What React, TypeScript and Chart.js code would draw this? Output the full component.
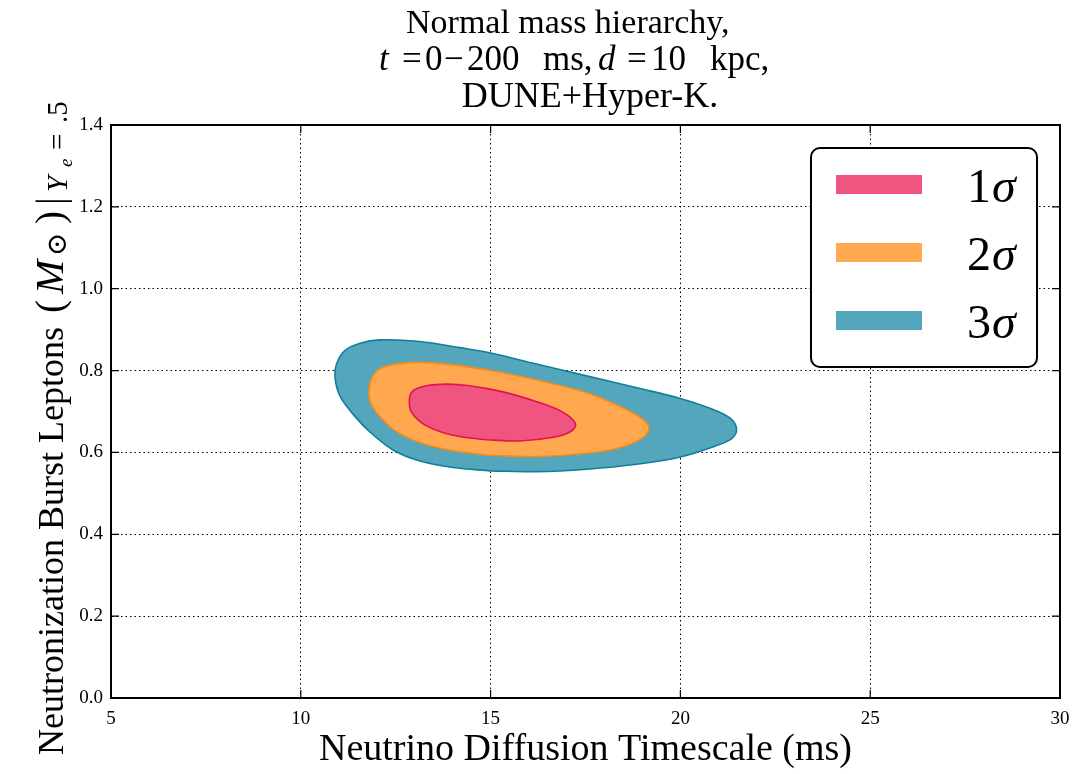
import { useEffect, useRef } from 'react';
import { Chart, registerables } from 'chart.js';

Chart.register(...registerables);

// Axis ranges and tick labels
const xTickValues = [5, 10, 15, 20, 25, 30];
const yTickValues = [0, 0.2, 0.4, 0.6, 0.8, 1.0, 1.2, 1.4];

// 3σ contour: diffusion timescale (ms) and burst leptons (M_sun)
const sigma3T = [15.0, 14.01, 13.14, 12.43, 11.82, 11.38, 11.03, 10.90, 10.94, 11.16, 11.56, 12.08, 13.14, 14.19, 15.0, 16.21, 17.53, 18.85, 20.0, 20.78, 21.31, 21.48, 21.35, 20.87, 20.0, 18.85, 17.53, 16.21, 15.0];
const sigma3M = [0.555, 0.563, 0.579, 0.606, 0.650, 0.693, 0.738, 0.784, 0.816, 0.849, 0.867, 0.875, 0.871, 0.856, 0.843, 0.816, 0.787, 0.758, 0.732, 0.708, 0.684, 0.657, 0.634, 0.614, 0.589, 0.571, 0.559, 0.553, 0.555];

// 2σ contour
const sigma2T = [15.0, 14.01, 13.14, 12.43, 11.99, 11.82, 11.80, 11.86, 12.08, 12.52, 13.14, 14.01, 15.0, 16.21, 17.53, 18.41, 18.93, 19.17, 19.02, 18.41, 17.53, 16.21, 15.0];
const sigma2M = [0.593, 0.604, 0.624, 0.657, 0.698, 0.726, 0.751, 0.779, 0.804, 0.816, 0.820, 0.814, 0.800, 0.777, 0.746, 0.712, 0.686, 0.661, 0.637, 0.612, 0.598, 0.590, 0.593];

// 1σ contour
const sigma1T = [14.89, 14.01, 13.31, 12.92, 12.86, 12.96, 13.31, 13.84, 14.45, 15.33, 16.21, 16.91, 17.24, 17.09, 16.65, 15.77, 14.89];
const sigma1M = [0.631, 0.642, 0.665, 0.698, 0.730, 0.751, 0.763, 0.767, 0.763, 0.748, 0.724, 0.698, 0.669, 0.650, 0.637, 0.628, 0.631];

const legendLabels = ['1', '2', '3'];

const COLORS = {
  s1: { fill: '#EF5580', edge: '#E4124E' },
  s2: { fill: '#FFA850', edge: '#FF8A12' },
  s3: { fill: '#53A6BB', edge: '#10809A' },
};

const SERIF = '"Liberation Serif", "Times New Roman", serif';

type Piece = { t: string; font: string; x: number; dy?: number; align?: CanvasTextAlign };

// Draws text pieces at given positions along the baseline, optionally rotated about (ox, oy).
function drawPieces(ctx: CanvasRenderingContext2D, pieces: Piece[], ox: number, oy: number, rotate = 0) {
  ctx.save();
  ctx.translate(ox, oy);
  if (rotate) ctx.rotate(rotate);
  ctx.textBaseline = 'alphabetic';
  ctx.fillStyle = '#000';
  pieces.forEach((p) => {
    ctx.font = p.font;
    ctx.textAlign = p.align || 'left';
    ctx.fillText(p.t, p.x, p.dy || 0);
  });
  ctx.restore();
}

function pts(xs: number[], ys: number[]) {
  return xs.map((x, i) => ({ x, y: ys[i] }));
}

const decorPlugin = {
  id: 'decor',
  afterDraw(chart: any) {
    const { ctx, chartArea } = chart;
    const { left, right, top, bottom } = chartArea;
    const xs = chart.scales.x;
    const ys = chart.scales.y;

    // frame
    ctx.save();
    ctx.strokeStyle = '#000';
    ctx.lineWidth = 2;
    ctx.strokeRect(left, top, right - left, bottom - top);

    // inward ticks on all four sides
    const tl = 8;
    ctx.lineWidth = 1.2;
    ctx.beginPath();
    xTickValues.forEach((v) => {
      const px = xs.getPixelForValue(v);
      ctx.moveTo(px, bottom);
      ctx.lineTo(px, bottom - tl);
      ctx.moveTo(px, top);
      ctx.lineTo(px, top + tl);
    });
    yTickValues.forEach((v) => {
      const py = ys.getPixelForValue(v);
      ctx.moveTo(left, py);
      ctx.lineTo(left + tl, py);
      ctx.moveTo(right, py);
      ctx.lineTo(right - tl, py);
    });
    ctx.stroke();
    ctx.restore();

    // title
    const t1 = `34px ${SERIF}`;
    const m = `35px ${SERIF}`;
    const mi = `italic 35px ${SERIF}`;
    drawPieces(ctx, [{ t: 'Normal mass hierarchy,', font: t1, x: 406 }], 0, 33);
    drawPieces(ctx, [
      { t: 't', font: mi, x: 379 },
      { t: '=', font: m, x: 402 },
      { t: '0', font: m, x: 425 },
      { t: '\u2212', font: m, x: 444 },
      { t: '200', font: m, x: 467 },
      { t: 'ms,', font: m, x: 543 },
      { t: 'd', font: mi, x: 598 },
      { t: '=', font: m, x: 627 },
      { t: '10', font: m, x: 651 },
      { t: 'kpc,', font: m, x: 710 },
    ], 0, 70);
    drawPieces(ctx, [{ t: 'DUNE+Hyper-K.', font: `36px ${SERIF}`, x: 590, align: 'center' }], 0, 107);

    // x axis title
    drawPieces(ctx, [{ t: 'Neutrino Diffusion Timescale (ms)', font: `38px ${SERIF}`, x: (left + right) / 2, align: 'center' }], 0, 760);

    // y axis title (reads bottom to top; x values are minus the screen y where each piece starts)
    const yf = `36px ${SERIF}`;
    const sub = `29px ${SERIF}`;
    const subi = `italic 29px ${SERIF}`;
    drawPieces(ctx, [
      { t: 'Neutronization Burst Leptons', font: yf, x: -755 },
      { t: '(', font: `39px ${SERIF}`, x: -313 },
      { t: 'M', font: `italic 41px ${SERIF}`, x: -294 },
      { t: '\u2299', font: `28px "DejaVu Serif", serif`, x: -256, dy: 3 },
      { t: ')', font: `39px ${SERIF}`, x: -224 },
      { t: '|', font: `39px ${SERIF}`, x: -205 },
      { t: 'Y', font: subi, x: -192, dy: 4 },
      { t: 'e', font: `italic 19px ${SERIF}`, x: -167, dy: 9 },
      { t: '=', font: sub, x: -150, dy: 4 },
      { t: '.5', font: sub, x: -123, dy: 4 },
    ], 63, 0, -Math.PI / 2);

    // legend
    const bx = 811, by = 148, bw = 226, bh = 219, r = 9;
    ctx.save();
    ctx.beginPath();
    ctx.moveTo(bx + r, by);
    ctx.arcTo(bx + bw, by, bx + bw, by + bh, r);
    ctx.arcTo(bx + bw, by + bh, bx, by + bh, r);
    ctx.arcTo(bx, by + bh, bx, by, r);
    ctx.arcTo(bx, by, bx + bw, by, r);
    ctx.closePath();
    ctx.fillStyle = '#fff';
    ctx.fill();
    ctx.lineWidth = 2;
    ctx.strokeStyle = '#000';
    ctx.stroke();
    const fills = [COLORS.s1.fill, COLORS.s2.fill, COLORS.s3.fill];
    const centers = [184.5, 252.5, 320.5];
    legendLabels.forEach((lab, i) => {
      ctx.fillStyle = fills[i];
      ctx.fillRect(836, centers[i] - 9.5, 86, 19);
      drawPieces(ctx, [
        { t: lab, font: `48px ${SERIF}`, x: 967 },
        { t: '\u03C3', font: `italic 48px ${SERIF}`, x: 992 },
      ], 0, centers[i] + 17);
    });
    ctx.restore();
  },
};

export default function App() {
  const ref = useRef<HTMLCanvasElement>(null);
  useEffect(() => {
    if (!ref.current) return;
    const mk = (label: string, xsArr: number[], ysArr: number[], c: { fill: string; edge: string }) => ({
      label,
      data: pts(xsArr, ysArr),
      showLine: true,
      fill: 'shape',
      backgroundColor: c.fill,
      borderColor: c.edge,
      borderWidth: 1.6,
      pointRadius: 0,
      tension: 0.35,
    });
    const chart = new Chart(ref.current, {
      type: 'scatter',
      data: {
        datasets: [
          mk('1σ', sigma1T, sigma1M, COLORS.s1),
          mk('2σ', sigma2T, sigma2M, COLORS.s2),
          mk('3σ', sigma3T, sigma3M, COLORS.s3),
        ] as any,
      },
      options: {
        animation: false,
        responsive: false,
        devicePixelRatio: 1,
        layout: { padding: { top: 125, right: 25, left: 0, bottom: 0 } },
        plugins: { legend: { display: false }, tooltip: { enabled: false }, title: { display: false } },
        scales: {
          x: {
            type: 'linear',
            min: 5,
            max: 30,
            z: 1,
            afterFit: (s: any) => { s.height = 76; },
            afterBuildTicks: (s: any) => { s.ticks = xTickValues.map((v) => ({ value: v })); },
            ticks: { color: '#000', padding: 10, font: { family: SERIF, size: 19 }, callback: (v: any) => String(v) },
            grid: { color: '#000', lineWidth: 1, drawTicks: false },
            border: { display: true, color: '#000', width: 2, dash: [1.5, 3] },
          },
          y: {
            type: 'linear',
            min: 0,
            max: 1.4,
            z: 1,
            afterFit: (s: any) => { s.width = 111; },
            afterBuildTicks: (s: any) => { s.ticks = yTickValues.map((v) => ({ value: v })); },
            ticks: { color: '#000', padding: 8, font: { family: SERIF, size: 19 }, callback: (v: any) => Number(v).toFixed(1) },
            grid: { color: '#000', lineWidth: 1, drawTicks: false },
            border: { display: true, color: '#000', width: 2, dash: [1.5, 3] },
          },
        },
      },
      plugins: [decorPlugin],
    });
    return () => chart.destroy();
  }, []);
  return (
    <div style={{ position: 'fixed', left: 0, top: 0, width: 1085, height: 774, background: '#fff' }}>
      <canvas ref={ref} width={1085} height={774} style={{ width: 1085, height: 774, display: 'block' }} />
    </div>
  );
}
